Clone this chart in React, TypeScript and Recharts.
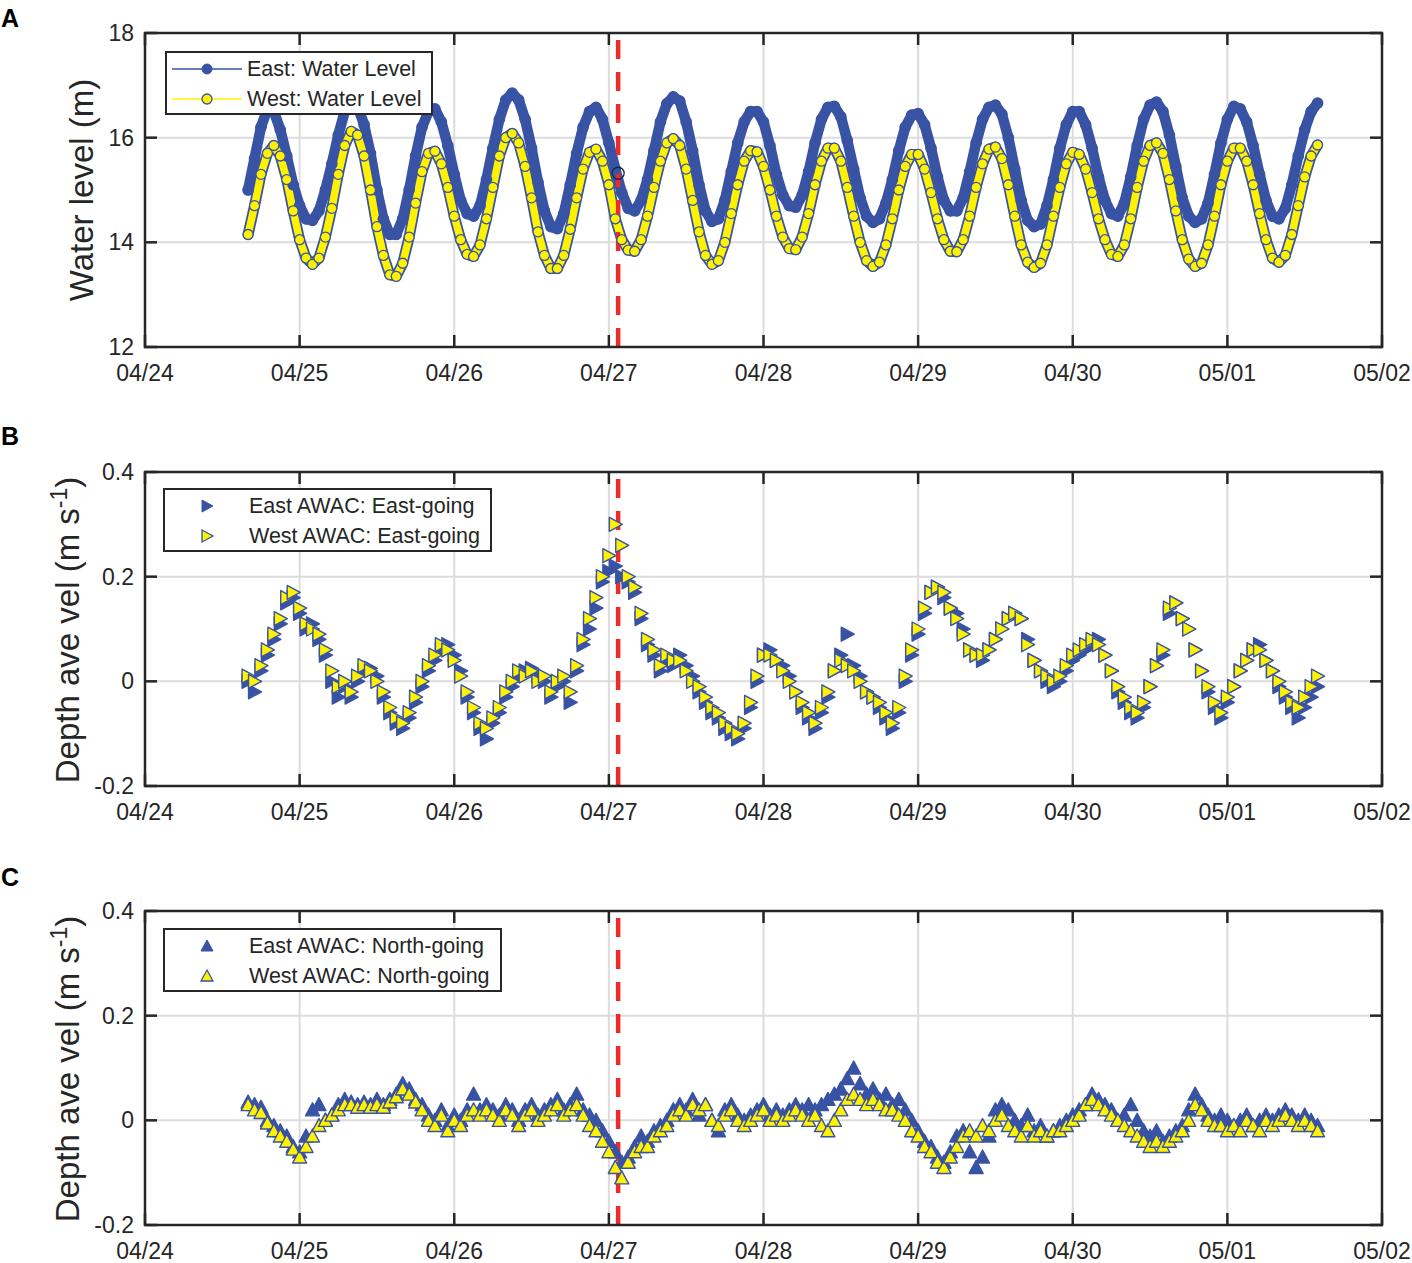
import React from "react";
import { ComposedChart, Line, XAxis, YAxis, CartesianGrid, ReferenceLine, ReferenceDot } from "recharts";

// time axis: days since 04/24 00:00, hourly samples from 04/24 16:00
const START_DAY = 16 / 24;
const STEP_DAY = 1 / 24;
const DAY_TICKS = [0, 1, 2, 3, 4, 5, 6, 7, 8];
const DAY_LABELS = ["04/24", "04/25", "04/26", "04/27", "04/28", "04/29", "04/30", "05/01", "05/02"];
const EVENT_DAY = 3.06;
const EVENT_LEVEL = 15.32;

const LEVEL_TICKS = [12, 14, 16, 18];
const LEVEL_LABELS = ["12", "14", "16", "18"];
const VEL_TICKS = [-0.2, 0, 0.2, 0.4];
const VEL_LABELS = ["-0.2", "0", "0.2", "0.4"];

const eastLevel = [
  15.0, 15.6, 16.2, 16.55, 16.5, 16.15, 15.65, 15.1, 14.7, 14.45,
  14.42, 14.6, 15.0, 15.5, 16.05, 16.5, 16.7, 16.6, 16.25, 15.7,
  15.0, 14.45, 14.15, 14.15, 14.45, 15.0, 15.65, 16.2, 16.5, 16.55,
  16.3, 15.85, 15.3, 14.8, 14.55, 14.5, 14.7, 15.2, 15.8, 16.35,
  16.72, 16.85, 16.72, 16.35, 15.8, 15.15, 14.6, 14.3, 14.26, 14.55,
  15.1, 15.7, 16.2, 16.5, 16.58, 16.35, 15.9, 15.4, 14.95, 14.65,
  14.6, 14.8, 15.2, 15.75, 16.3, 16.65, 16.78, 16.7, 16.3, 15.75,
  15.1, 14.6, 14.4, 14.45, 14.8, 15.35, 15.9, 16.3, 16.5, 16.5,
  16.3, 15.85, 15.3, 14.9, 14.7, 14.67, 14.9, 15.35, 15.9, 16.35,
  16.58, 16.6, 16.4, 15.95, 15.4, 14.85, 14.5, 14.38, 14.45, 14.75,
  15.2, 15.75, 16.2, 16.43, 16.46, 16.25, 15.8, 15.25, 14.8, 14.6,
  14.6, 14.85, 15.35, 15.9, 16.35, 16.58, 16.62, 16.45, 16.0, 15.4,
  14.8, 14.42, 14.3, 14.35, 14.7, 15.2, 15.8, 16.25, 16.5, 16.5,
  16.25, 15.8, 15.25, 14.8, 14.55, 14.5, 14.75, 15.25, 15.85, 16.35,
  16.62, 16.68, 16.5, 16.05, 15.45, 14.85, 14.5, 14.38, 14.45, 14.75,
  15.3, 15.9, 16.35, 16.6, 16.55, 16.3, 15.85, 15.3, 14.8, 14.5,
  14.45, 14.65, 15.1, 15.65, 16.15, 16.5, 16.66,
];

const westLevel = [
  14.15, 14.7, 15.3, 15.7, 15.85, 15.65, 15.2, 14.6, 14.05, 13.7,
  13.58, 13.7, 14.1, 14.65, 15.3, 15.85, 16.12, 16.05, 15.65, 15.0,
  14.3, 13.75, 13.38, 13.35, 13.6, 14.1, 14.75, 15.35, 15.7, 15.74,
  15.5, 15.05, 14.5, 14.05, 13.77, 13.73, 13.95, 14.45, 15.05, 15.65,
  16.0, 16.08, 15.9, 15.45, 14.85, 14.2, 13.75, 13.5, 13.5, 13.75,
  14.25, 14.85, 15.4, 15.72, 15.78, 15.55, 15.1, 14.45, 14.05, 13.85,
  13.83, 14.05, 14.5, 15.05, 15.55, 15.9, 15.98, 15.85, 15.4, 14.8,
  14.2, 13.75, 13.58, 13.65, 14.0, 14.55, 15.1, 15.55, 15.75, 15.73,
  15.45, 15.0, 14.5, 14.1, 13.88, 13.86, 14.1, 14.55, 15.1, 15.55,
  15.8, 15.8, 15.55, 15.05, 14.5, 14.0, 13.65, 13.54, 13.62, 13.95,
  14.45, 15.0, 15.45, 15.68, 15.68, 15.4, 14.95, 14.45, 14.05, 13.83,
  13.82, 14.05, 14.5, 15.05, 15.5, 15.78, 15.82, 15.6, 15.1, 14.5,
  13.95, 13.62, 13.52, 13.6, 13.95, 14.5, 15.05, 15.5, 15.72, 15.68,
  15.4, 14.95, 14.45, 14.05, 13.77, 13.73, 13.95, 14.45, 15.05, 15.55,
  15.85, 15.9, 15.7, 15.2, 14.6, 14.05, 13.68, 13.54, 13.6, 13.95,
  14.5, 15.1, 15.55, 15.8, 15.8, 15.55, 15.1, 14.55, 14.05, 13.7,
  13.62, 13.75, 14.15, 14.7, 15.25, 15.65, 15.86,
];

// depth averaged east-going velocity (m/s)
const eastU = [
  0.0, -0.02, 0.02, 0.05, 0.08, 0.11, 0.15, 0.16, 0.13, 0.1,
  0.11, 0.08, 0.05, 0.0, -0.03, -0.01, -0.03, 0.0, 0.02, 0.025,
  0.01, -0.03, -0.06, -0.08, -0.09, -0.07, -0.04, -0.01, 0.02, 0.04,
  0.06, 0.07, 0.05, 0.02, -0.03, -0.06, -0.09, -0.11, -0.08, -0.06,
  -0.03, -0.01, 0.01, 0.02, 0.025, 0.01, 0.0, -0.03, -0.01, 0.0,
  -0.04, 0.02, 0.07, 0.1, 0.14, 0.19, 0.21, 0.22, 0.2, 0.19,
  0.17, 0.12, 0.07, 0.05, 0.02, 0.04, 0.03, 0.05, 0.03, 0.01,
  -0.02, -0.04, -0.06, -0.07, -0.09, -0.1, -0.11, -0.09, -0.05, 0.0,
  0.05, 0.06, 0.04, 0.03, 0.01, -0.02, -0.05, -0.07, -0.09, -0.06,
  -0.03, 0.02, 0.05, 0.09, 0.03, 0.01, -0.02, -0.03, -0.05, -0.07,
  -0.09, -0.06, 0.0, 0.05, 0.09, 0.13, 0.17, 0.18, 0.16, 0.14,
  0.13, 0.1, 0.06, 0.05, 0.04, 0.06, 0.08, 0.1, 0.12, 0.13,
  0.12, 0.08, 0.04, 0.02, 0.0, -0.01, 0.0, 0.02, 0.04, 0.05,
  0.06, 0.07, 0.08, 0.05, 0.02, -0.02, -0.04, -0.06, -0.07, -0.05,
  -0.01, 0.03, 0.05, 0.13, 0.15, 0.12, 0.1, 0.06, 0.02, -0.02,
  -0.05, -0.07, -0.04, -0.01, 0.02, 0.04, 0.06, 0.07, 0.04, 0.02,
  -0.01, -0.03, -0.05, -0.07, -0.05, -0.03, -0.01,
];

const westU = [
  0.01, 0.0, 0.03, 0.06, 0.09, 0.12, 0.16, 0.17, 0.14, 0.11,
  0.1, 0.09, 0.06, 0.02, -0.01, 0.0, -0.02, 0.01, 0.03, 0.02,
  0.0, -0.02, -0.05, -0.07, -0.08, -0.06, -0.03, 0.0, 0.03, 0.05,
  0.07, 0.06, 0.04, 0.01, -0.02, -0.05, -0.08, -0.09, -0.07, -0.05,
  -0.02, 0.0, 0.02, 0.01, 0.02, 0.0, 0.01, -0.02, 0.0, 0.01,
  -0.02, 0.03, 0.08, 0.12, 0.16, 0.2, 0.24, 0.3, 0.26, 0.2,
  0.18, 0.13, 0.08, 0.06, 0.03, 0.05, 0.04, 0.04, 0.02, 0.0,
  -0.01, -0.03, -0.05, -0.06, -0.08, -0.09, -0.1, -0.08, -0.04, 0.01,
  0.05, 0.05, 0.04, 0.02, 0.0, -0.02, -0.04, -0.06, -0.08, -0.05,
  -0.02, 0.02, 0.04, 0.03, 0.02, 0.0, -0.02, -0.03, -0.04, -0.06,
  -0.08, -0.05, 0.01, 0.06, 0.1, 0.14, 0.17, 0.18, 0.17, 0.14,
  0.12, 0.09, 0.06, 0.05, 0.05, 0.06, 0.08, 0.1, 0.12, 0.13,
  0.12, 0.07, 0.04, 0.02, 0.01, 0.0, 0.01, 0.03, 0.05, 0.06,
  0.07, 0.08, 0.07, 0.05, 0.02, -0.01, -0.03, -0.05, -0.06, -0.04,
  -0.01, 0.03, 0.06, 0.14, 0.15, 0.12, 0.1, 0.06, 0.02, -0.01,
  -0.04, -0.06, -0.03, -0.01, 0.02, 0.04, 0.06, 0.06, 0.04, 0.02,
  0.0, -0.02, -0.04, -0.05, -0.03, -0.01, 0.01,
];

// depth averaged north-going velocity (m/s)
const eastV = [
  0.035, 0.03, 0.025, 0.0, -0.01, -0.02, -0.03, -0.05, -0.06, -0.03,
  0.02, 0.03, 0.0, 0.01, 0.03, 0.04, 0.035, 0.03, 0.035, 0.03,
  0.04, 0.03, 0.04, 0.05, 0.07, 0.06, 0.04, 0.03, 0.01, 0.0,
  0.02, -0.01, 0.01, 0.0, 0.02, 0.05, 0.02, 0.03, 0.02, 0.01,
  0.03, 0.02, 0.0, 0.02, 0.03, 0.01, 0.02, 0.03, 0.04, 0.02,
  0.03, 0.05, 0.02, 0.01, 0.0, -0.02, -0.04, -0.06, -0.08, -0.07,
  -0.05, -0.03, -0.04, -0.02, -0.01, 0.0, 0.02, 0.03, 0.02, 0.04,
  0.01, 0.03, 0.0, -0.02, 0.02, 0.03, 0.01, 0.0, 0.01, 0.02,
  0.03, 0.01, 0.02, 0.01, 0.02, 0.03, 0.02, 0.03, 0.02, 0.03,
  0.04, 0.05, 0.06, 0.08, 0.1, 0.07, 0.05, 0.06, 0.04, 0.05,
  0.03, 0.04, 0.02, 0.0, -0.02, -0.04, -0.05, -0.07, -0.08, -0.06,
  -0.03, -0.02, -0.06, -0.09, -0.07, -0.03, 0.02, 0.03, 0.02, 0.0,
  -0.01, 0.01, -0.02, -0.01, -0.03, -0.02, -0.01, 0.0, 0.01, 0.02,
  0.03, 0.05, 0.04, 0.03, 0.02, 0.0, 0.01, 0.03, 0.0, -0.02,
  -0.03, -0.02, -0.04, -0.03, -0.02, -0.01, 0.02, 0.05, 0.03, 0.01,
  0.0, 0.01, 0.0, -0.01, 0.0, 0.01, -0.01, 0.0, 0.01, 0.0,
  0.01, 0.02, 0.01, 0.0, 0.01, 0.0, -0.01,
];

const westV = [
  0.03, 0.02, 0.015, -0.005, -0.02, -0.03, -0.04, -0.055, -0.07, -0.05,
  -0.03, -0.01, 0.0, 0.01, 0.02, 0.03, 0.03, 0.025, 0.03, 0.025,
  0.03, 0.025, 0.035, 0.045, 0.06, 0.05, 0.035, 0.02, 0.0, -0.01,
  0.01, -0.02, 0.0, -0.01, 0.01, 0.02, 0.01, 0.02, 0.01, 0.0,
  0.02, 0.01, -0.01, 0.01, 0.02, 0.0, 0.01, 0.02, 0.03, 0.01,
  0.02, 0.03, 0.01, -0.01, -0.02, -0.04, -0.06, -0.09, -0.11, -0.08,
  -0.06, -0.05, -0.05, -0.03, -0.02, -0.01, 0.01, 0.02, 0.01, 0.03,
  0.02, 0.03, 0.0, -0.01, 0.01, 0.02, 0.0, -0.01, 0.0, 0.01,
  0.02, 0.0, 0.01, 0.0, 0.01, 0.02, 0.01, 0.0, 0.01, -0.01,
  -0.02, 0.0, 0.02, 0.04, 0.05, 0.04, 0.03, 0.04, 0.03, 0.02,
  0.02, 0.01, 0.0, -0.02, -0.03, -0.05, -0.06, -0.08, -0.09, -0.07,
  -0.05, -0.03, -0.02, -0.03, -0.01, -0.02, 0.0, 0.01, -0.01, -0.02,
  -0.03, -0.01, -0.03, -0.02, -0.03, -0.02, -0.02, -0.01, 0.0, 0.01,
  0.03, 0.04, 0.03, 0.02, 0.01, 0.0, -0.01, -0.02, -0.03, -0.04,
  -0.05, -0.04, -0.05, -0.04, -0.03, -0.02, 0.0, 0.03, 0.02, 0.0,
  -0.01, -0.01, -0.02, -0.01, -0.02, 0.0, -0.01, -0.02, 0.0, -0.01,
  0.0, 0.01, 0.0, -0.01, 0.0, -0.01, -0.02,
];

const BLUE = "#3953a4";
const YELLOW = "#fff200";
const RED = "#ee2b2b";
const FRAME = "#262626";
const TEXT = "#262626";
const GRID = "#dcdcdc";
const FONT = "'Liberation Sans', Arial, Helvetica, sans-serif";

const W = 1412;
const H = 400;
const TOP = 33;
const LEFT = 145;
const Y_AXIS_W = 60;
const PLOT_W = 1237;
const PLOT_H = 314;
const X_AXIS_H = 40;
const TICK_LEN = 12;
const PANEL_TOPS = [0, 439, 878];

const toRows = (east: number[], west: number[]) =>
  east.map((v, i) => ({ t: START_DAY + i * STEP_DAY, east: v, west: west[i] }));

const levelRows = toRows(eastLevel, westLevel);
const uRows = toRows(eastU, westU);
const vRows = toRows(eastV, westV);

function XTick(props: any) {
  const { x, y, payload } = props;
  const label = DAY_LABELS[DAY_TICKS.indexOf(payload.value)];
  return (
    <g>
      <line x1={x} x2={x} y1={y} y2={y - TICK_LEN} stroke={FRAME} strokeWidth={2.5} />
      <line x1={x} x2={x} y1={y - PLOT_H} y2={y - PLOT_H + TICK_LEN} stroke={FRAME} strokeWidth={2.5} />
      <text x={x} y={y + 26} textAnchor="middle" dominantBaseline="central" fontSize={23} fill={TEXT} fontFamily={FONT}>
        {label}
      </text>
    </g>
  );
}

const makeYTick = (ticks: number[], labels: string[]) => (props: any) => {
  const { x, y, payload } = props;
  const label = labels[ticks.indexOf(payload.value)];
  return (
    <g>
      <line x1={x} x2={x + TICK_LEN} y1={y} y2={y} stroke={FRAME} strokeWidth={2.5} />
      <line x1={x + PLOT_W - TICK_LEN} x2={x + PLOT_W} y1={y} y2={y} stroke={FRAME} strokeWidth={2.5} />
      <text x={x - 11} y={y} textAnchor="end" dominantBaseline="central" fontSize={23} fill={TEXT} fontFamily={FONT}>
        {label}
      </text>
    </g>
  );
};

const circleDot = (fill: string, stroke: string, r: number) => (p: any) => (
  <circle key={`c${p.index}`} cx={p.cx} cy={p.cy} r={r} fill={fill} stroke={stroke} strokeWidth={1.3} />
);

const rightTri = (fill: string) => (p: any) => (
  <polygon
    key={`r${p.index}`}
    points={`${p.cx - 6},${p.cy - 7} ${p.cx - 6},${p.cy + 7} ${p.cx + 7},${p.cy}`}
    fill={fill}
    stroke={BLUE}
    strokeWidth={1.4}
    strokeLinejoin="round"
  />
);

const upTri = (fill: string) => (p: any) => (
  <polygon
    key={`u${p.index}`}
    points={`${p.cx - 7},${p.cy + 6} ${p.cx + 7},${p.cy + 6} ${p.cx},${p.cy - 7}`}
    fill={fill}
    stroke={BLUE}
    strokeWidth={1.4}
    strokeLinejoin="round"
  />
);

function Panel({ top, data, domain, ticks, labels, children }: any) {
  return (
    <div style={{ position: "absolute", left: 0, top }}>
      <ComposedChart
        width={W}
        height={H}
        data={data}
        margin={{ top: TOP, right: W - LEFT - PLOT_W, bottom: H - TOP - PLOT_H - X_AXIS_H, left: LEFT - Y_AXIS_W }}
      >
        <CartesianGrid stroke={GRID} strokeWidth={2} />
        <XAxis
          dataKey="t"
          type="number"
          domain={[0, 8]}
          ticks={DAY_TICKS}
          interval={0}
          height={X_AXIS_H}
          axisLine={false}
          tickLine={false}
          tickSize={0}
          tickMargin={0}
          tick={XTick}
          allowDataOverflow
        />
        <YAxis
          type="number"
          domain={domain}
          ticks={ticks}
          interval={0}
          width={Y_AXIS_W}
          axisLine={false}
          tickLine={false}
          tickSize={0}
          tickMargin={0}
          tick={makeYTick(ticks, labels)}
          allowDataOverflow
        />
        {children}
        <ReferenceLine x={EVENT_DAY} stroke={RED} strokeWidth={4.5} strokeDasharray="19 13" />
      </ComposedChart>
    </div>
  );
}

function LegendBox({ left, top, width, iconW, items }: any) {
  return (
    <div
      style={{
        position: "absolute",
        left,
        top,
        width,
        height: 64,
        boxSizing: "border-box",
        border: `2.5px solid ${FRAME}`,
        background: "#fff",
        fontFamily: FONT,
        fontSize: 21.5,
        color: TEXT,
        paddingTop: 1,
      }}
    >
      {items.map((it: any) => (
        <div key={it.label} style={{ display: "flex", alignItems: "center", height: 30 }}>
          <svg width={iconW} height={30} style={{ flex: "none" }}>
            {it.icon}
          </svg>
          <span style={{ whiteSpace: "nowrap" }}>{it.label}</span>
        </div>
      ))}
    </div>
  );
}

const levelItems = [
  {
    label: "East: Water Level",
    icon: (
      <g>
        <line x1={5} x2={75} y1={15} y2={15} stroke={BLUE} strokeWidth={1.5} />
        <circle cx={40} cy={15} r={5} fill={BLUE} stroke={BLUE} />
      </g>
    ),
  },
  {
    label: "West: Water Level",
    icon: (
      <g>
        <line x1={5} x2={75} y1={15} y2={15} stroke={YELLOW} strokeWidth={1.5} />
        <circle cx={40} cy={15} r={5} fill={YELLOW} stroke={BLUE} strokeWidth={1.3} />
      </g>
    ),
  },
];

const uItems = [
  { label: "East AWAC: East-going", icon: <polygon points="37,9 37,21 48,15" fill={BLUE} stroke={BLUE} /> },
  { label: "West AWAC: East-going", icon: <polygon points="37,9 37,21 48,15" fill={YELLOW} stroke={BLUE} strokeWidth={1.3} /> },
];

const vItems = [
  { label: "East AWAC: North-going", icon: <polygon points="36,20 48,20 42,9" fill={BLUE} stroke={BLUE} /> },
  { label: "West AWAC: North-going", icon: <polygon points="36,20 48,20 42,9" fill={YELLOW} stroke={BLUE} strokeWidth={1.3} /> },
];

export default function App() {
  const letterStyle = { fontFamily: FONT, fontSize: 25, fontWeight: 700, fill: "#000" };
  const titleStyle = { fontFamily: FONT, fontSize: 33, fill: TEXT };
  return (
    <div style={{ position: "absolute", left: 0, top: 0, width: W, height: 1263, background: "#fff", overflow: "hidden" }}>
      <Panel top={PANEL_TOPS[0]} data={levelRows} domain={[12, 18]} ticks={LEVEL_TICKS} labels={LEVEL_LABELS}>
        <Line
          dataKey="east"
          type="linear"
          stroke={BLUE}
          strokeWidth={10.5}
          strokeLinejoin="round"
          strokeLinecap="round"
          dot={circleDot(BLUE, BLUE, 5.2)}
          isAnimationActive={false}
        />
        <Line
          dataKey="west"
          type="linear"
          stroke={BLUE}
          strokeWidth={11}
          strokeLinejoin="round"
          strokeLinecap="round"
          dot={false}
          isAnimationActive={false}
        />
        <Line
          dataKey="west"
          type="linear"
          stroke={YELLOW}
          strokeWidth={7.5}
          strokeLinejoin="round"
          strokeLinecap="round"
          dot={circleDot(YELLOW, BLUE, 5)}
          isAnimationActive={false}
        />
        <ReferenceDot x={EVENT_DAY} y={EVENT_LEVEL} r={6} fill="none" stroke="#1c2340" strokeWidth={1.3} />
      </Panel>
      <Panel top={PANEL_TOPS[1]} data={uRows} domain={[-0.2, 0.4]} ticks={VEL_TICKS} labels={VEL_LABELS}>
        <Line dataKey="east" stroke="none" dot={rightTri(BLUE)} isAnimationActive={false} />
        <Line dataKey="west" stroke="none" dot={rightTri(YELLOW)} isAnimationActive={false} />
      </Panel>
      <Panel top={PANEL_TOPS[2]} data={vRows} domain={[-0.2, 0.4]} ticks={VEL_TICKS} labels={VEL_LABELS}>
        <Line dataKey="east" stroke="none" dot={upTri(BLUE)} isAnimationActive={false} />
        <Line dataKey="west" stroke="none" dot={upTri(YELLOW)} isAnimationActive={false} />
      </Panel>

      <svg width={W} height={1263} style={{ position: "absolute", left: 0, top: 0, pointerEvents: "none" }}>
        {PANEL_TOPS.map((pt) => (
          <rect key={pt} x={LEFT} y={pt + TOP} width={PLOT_W} height={PLOT_H} fill="none" stroke={FRAME} strokeWidth={2.5} />
        ))}
        <text x={1} y={27} style={letterStyle}>A</text>
        <text x={1} y={445} style={letterStyle}>B</text>
        <text x={1} y={886} style={letterStyle}>C</text>
        <text transform="translate(93,190) rotate(-90)" textAnchor="middle" style={titleStyle}>
          Water level (m)
        </text>
        <text transform="translate(79,630) rotate(-90)" textAnchor="middle" style={titleStyle}>
          Depth ave vel (m s<tspan dy={-12} fontSize={23}>-1</tspan>
          <tspan dy={12}>)</tspan>
        </text>
        <text transform="translate(79,1069) rotate(-90)" textAnchor="middle" style={titleStyle}>
          Depth ave vel (m s<tspan dy={-12} fontSize={23}>-1</tspan>
          <tspan dy={12}>)</tspan>
        </text>
      </svg>

      <LegendBox left={165} top={51} width={268} iconW={80} items={levelItems} />
      <LegendBox left={163} top={488} width={329} iconW={84} items={uItems} />
      <LegendBox left={163} top={928} width={339} iconW={84} items={vItems} />
    </div>
  );
}
